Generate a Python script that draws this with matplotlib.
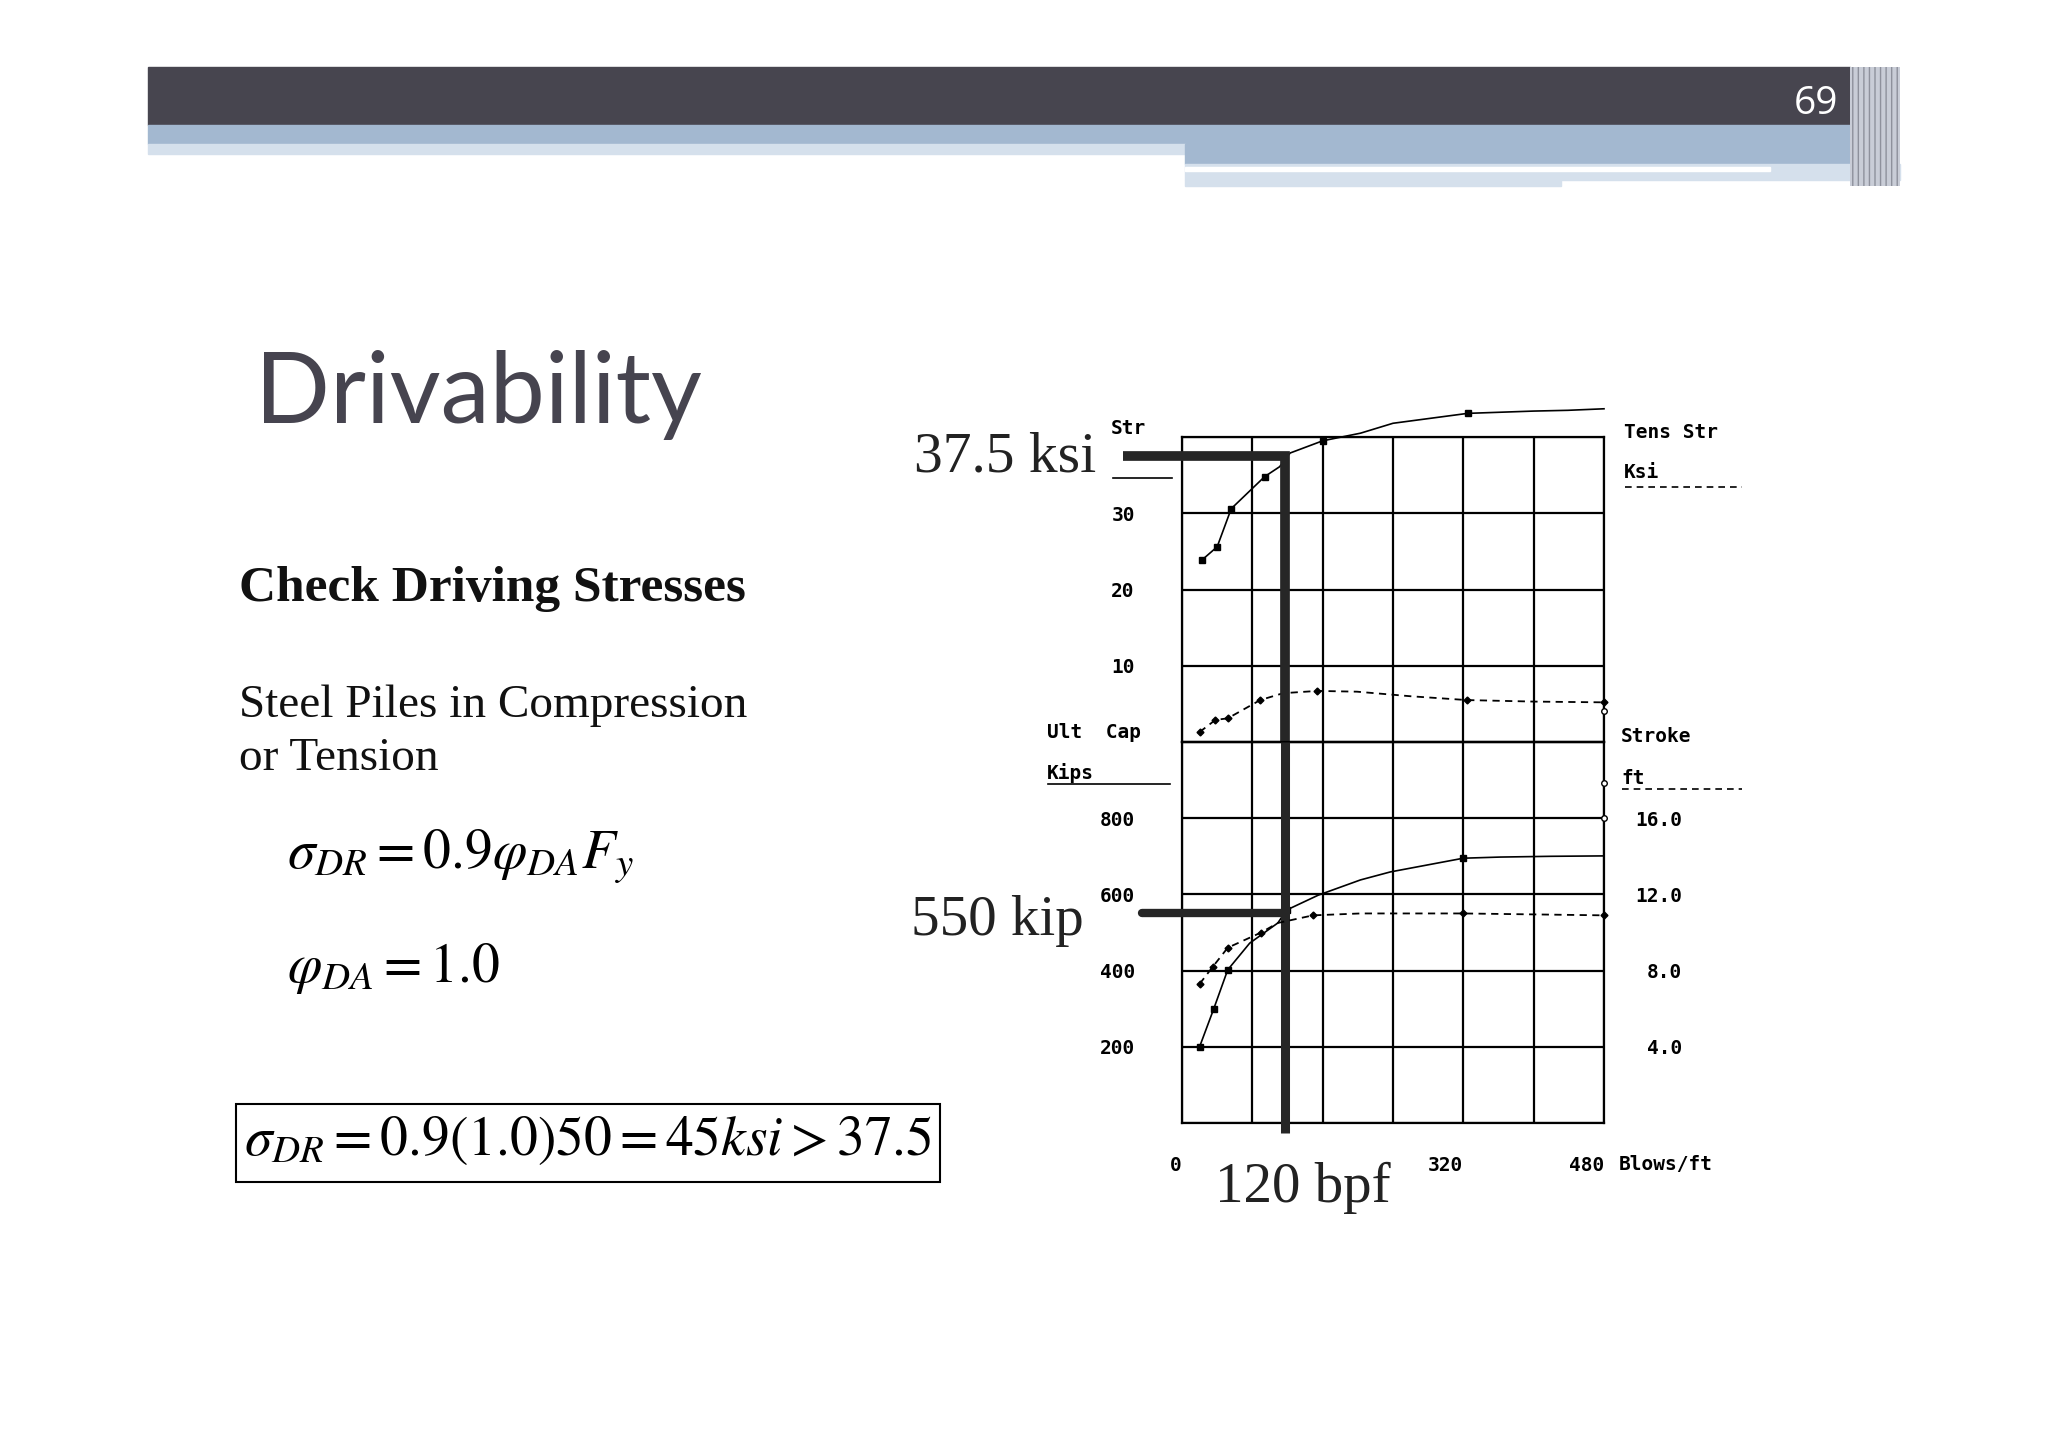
import matplotlib
matplotlib.use('Agg')
import matplotlib.pyplot as plt
from matplotlib.patches import Rectangle

plt.rcParams['mathtext.fontset'] = 'stix'

# ---- chart data ----
comp_bpf = [23, 40, 56, 94, 111, 123, 160, 203, 240, 325, 400, 439, 480]
comp_ksi = [23.9, 25.6, 30.6, 34.8, 36.1, 37.9, 39.5, 40.5, 41.8, 43.1, 43.4, 43.5, 43.7]

tens_bpf = [20, 38, 52, 89, 115, 154, 199, 260, 324, 400, 480]
tens_ksi = [1.3, 2.9, 3.1, 5.5, 6.4, 6.7, 6.6, 6.0, 5.5, 5.3, 5.2]

cap_bpf = [20, 36, 52, 77, 109, 119, 155, 203, 237, 320, 362, 420, 478]
cap_kips = [200, 299, 402, 472, 525, 559, 598, 638, 659, 695, 698, 700, 701]

stroke_bpf = [20, 35, 52, 90, 109, 149, 203, 320, 400, 480]
stroke_ft = [7.3, 8.2, 9.2, 10.0, 10.5, 10.9, 11.0, 11.0, 10.95, 10.9]

# small end-of-scale markers on the right border
edge_ksi = [4.1]
edge_ft = [16.0, 17.85]

ksi_ticks = [0, 10, 20, 30, 40]
ksi_labels = ['', '10', '20', '30', '']
kip_ticks = [0, 200, 400, 600, 800, 1000]
kip_labels = ['', '200', '400', '600', '800', '']
ft_ticks = [4, 8, 12, 16]
ft_labels = ['4.0', '8.0', '12.0', '16.0']
bpf_ticks = [0, 80, 160, 240, 320, 400, 480]
bpf_labels = ['0', '', '', '', '320', '', '480']

# design point marked on the chart (line drawn by hand at ~117 bpf)
ksi_mark = 37.5
kip_mark = 550
bpf_mark = 117

W, H = 2048, 1447
fig = plt.figure(figsize=(W / 100, H / 100), dpi=100)
fig.patch.set_facecolor('white')

# background axes in pixel units for the slide decoration and text
bg = fig.add_axes([0, 0, 1, 1])
bg.set_xlim(0, W)
bg.set_ylim(H, 0)
bg.axis('off')
bg.set_autoscale_on(False)

# slide header bands
bg.add_patch(Rectangle((148, 67), 1702, 58, color='#47454f'))
bg.add_patch(Rectangle((148, 125), 1702, 19, color='#a3b8d0'))
bg.add_patch(Rectangle((148, 144), 1037, 10, color='#d5e0ec'))
bg.add_patch(Rectangle((1185, 144), 665, 20, color='#a3b8d0'))
bg.add_patch(Rectangle((1185, 164), 715, 16, color='#d5e0ec'))
bg.add_patch(Rectangle((1185, 167), 585, 4, color='white'))
bg.add_patch(Rectangle((1185, 180), 376, 6, color='#d5e0ec'))
bg.add_patch(Rectangle((1850, 67), 50, 119, facecolor='#c9cdd7', edgecolor='#8e919c',
                       hatch='|||', lw=0))
bg.text(1816, 104, '69', color='white', fontsize=28, ha='center', va='center',
        family='Open Sans')

# slide text
bg.text(255, 423, 'Drivability', family='Lato', fontsize=71, color='#46444f',
        va='baseline')
bg.text(239, 589, 'Check Driving Stresses', family='Liberation Serif',
        fontweight='bold', fontsize=37, va='center', color='#111111')
bg.text(239, 706, 'Steel Piles in Compression', family='Liberation Serif',
        fontsize=34, va='center', color='#111111')
bg.text(239, 759, 'or Tension', family='Liberation Serif', fontsize=34,
        va='center', color='#111111')
bg.text(287, 857, r'$\sigma_{DR}=0.9\varphi_{DA}F_y$', fontsize=40, va='center')
bg.text(287, 968, r'$\varphi_{DA}=1.0$', fontsize=40, va='center')
bg.add_patch(Rectangle((236, 1104), 704, 78, fill=False, ec='black', lw=1.5))
bg.text(244, 1140, r'$\sigma_{DR}=0.9(1.0)50=45ksi>37.5$', fontsize=40,
        va='center')

# chart labels (legend keys of the original plot)
mono = dict(family='DejaVu Sans Mono', fontsize=14, fontweight='bold', va='center')
bg.text(1111, 428, 'Str', **mono)
bg.plot([1113, 1172], [478, 478], color='k', lw=1.2)
bg.text(1624, 432, 'Tens Str', **mono)
bg.text(1624, 473, 'Ksi', **mono)
bg.plot([1625, 1742], [487, 487], color='k', lw=1.2, ls='--', dashes=(4, 3))
bg.text(1047, 733, 'Ult  Cap', **mono)
bg.text(1047, 773, 'Kips', **mono)
bg.plot([1048, 1170], [784, 784], color='k', lw=1.2)
bg.text(1621, 737, 'Stroke', **mono)
bg.text(1621, 778, 'ft', **mono)
bg.plot([1622, 1742], [789, 789], color='k', lw=1.2, ls='--', dashes=(4, 3))
bg.text(1619, 1164, 'Blows/ft', **mono)

serif = dict(family='Liberation Serif', color='#222222', va='baseline')
bg.text(914, 472, '37.5 ksi', fontsize=41.5, **serif)
bg.text(911, 935, '550 kip', fontsize=41, **serif)
bg.text(1215, 1202, '120 bpf', fontsize=41, **serif)

# chart axes
x0, x1 = 1182, 1604
y_top, y_mid, y_bot = 437, 742, 1123
ax_up = fig.add_axes([x0 / W, 1 - y_mid / H, (x1 - x0) / W, (y_mid - y_top) / H])
ax_lo = fig.add_axes([x0 / W, 1 - y_bot / H, (x1 - x0) / W, (y_bot - y_mid) / H])

tick_font = dict(family='DejaVu Sans Mono', fontweight='bold')
for ax in (ax_up, ax_lo):
    ax.set_facecolor('none')
    ax.set_xlim(0, 480)
    ax.set_xticks(bpf_ticks)
    ax.grid(True, color='black', lw=1.6)
    ax.set_axisbelow(True)
    ax.tick_params(length=0, labelsize=14)
    for s in ax.spines.values():
        s.set_linewidth(1.6)
    ax.tick_params(axis='y', pad=34)

ax_up.set_ylim(0, 40)
ax_up.set_yticks(ksi_ticks)
ax_up.set_yticklabels(ksi_labels, **tick_font)
ax_up.set_xticklabels([])

ax_lo.set_ylim(0, 1000)
ax_lo.set_yticks(kip_ticks)
ax_lo.set_yticklabels(kip_labels, **tick_font)
ax_lo.set_xticklabels(bpf_labels, ha='right', **tick_font)
ax_lo.tick_params(axis='x', pad=24)

ax_st = ax_lo.twinx()
ax_st.set_ylim(0, 20)
ax_st.set_yticks(ft_ticks)
ax_st.set_yticklabels(ft_labels, ha='right', **tick_font)
ax_st.tick_params(axis='y', length=0, pad=56, labelsize=14)
for s in ax_st.spines.values():
    s.set_visible(False)

# curves
ax_up.plot(comp_bpf, comp_ksi, color='k', lw=1.2, marker='s', ms=4,
           markevery=[0, 1, 2, 3, 6, 9], clip_on=False, zorder=3)
ax_up.plot(tens_bpf, tens_ksi, color='k', lw=1.3, ls='--', dashes=(4, 3),
           marker='D', ms=3.5, markevery=[0, 1, 2, 3, 5, 8, 10], clip_on=False, zorder=3)
ax_lo.plot(cap_bpf, cap_kips, color='k', lw=1.2, marker='s', ms=4,
           markevery=[0, 1, 2, 5, 9], clip_on=False, zorder=3)
ax_st.plot(stroke_bpf, stroke_ft, color='k', lw=1.3, ls='--', dashes=(4, 3),
           marker='D', ms=3.5, markevery=[0, 1, 2, 3, 5, 7, 9], clip_on=False, zorder=3)

ax_up.plot([480] * len(edge_ksi), edge_ksi, ls='none', marker='o', ms=4, mfc='white',
           mec='k', clip_on=False, zorder=4)
ax_st.plot([480] * len(edge_ft), edge_ft, ls='none', marker='o', ms=4, mfc='white',
           mec='k', clip_on=False, zorder=4)

# design-point markers
ax_up.plot([-67, bpf_mark, bpf_mark], [ksi_mark, ksi_mark, 0], color='#262626', lw=7,
           solid_joinstyle='miter', solid_capstyle='butt', clip_on=False, zorder=5)
ax_lo.plot([bpf_mark, bpf_mark], [1000, -26], color='#262626', lw=6.5,
           solid_capstyle='butt', clip_on=False, zorder=5)
ax_lo.plot([-45, bpf_mark], [kip_mark, kip_mark], color='#262626', lw=6,
           solid_capstyle='round', clip_on=False, zorder=5)

fig.savefig('out.png', dpi=100)
